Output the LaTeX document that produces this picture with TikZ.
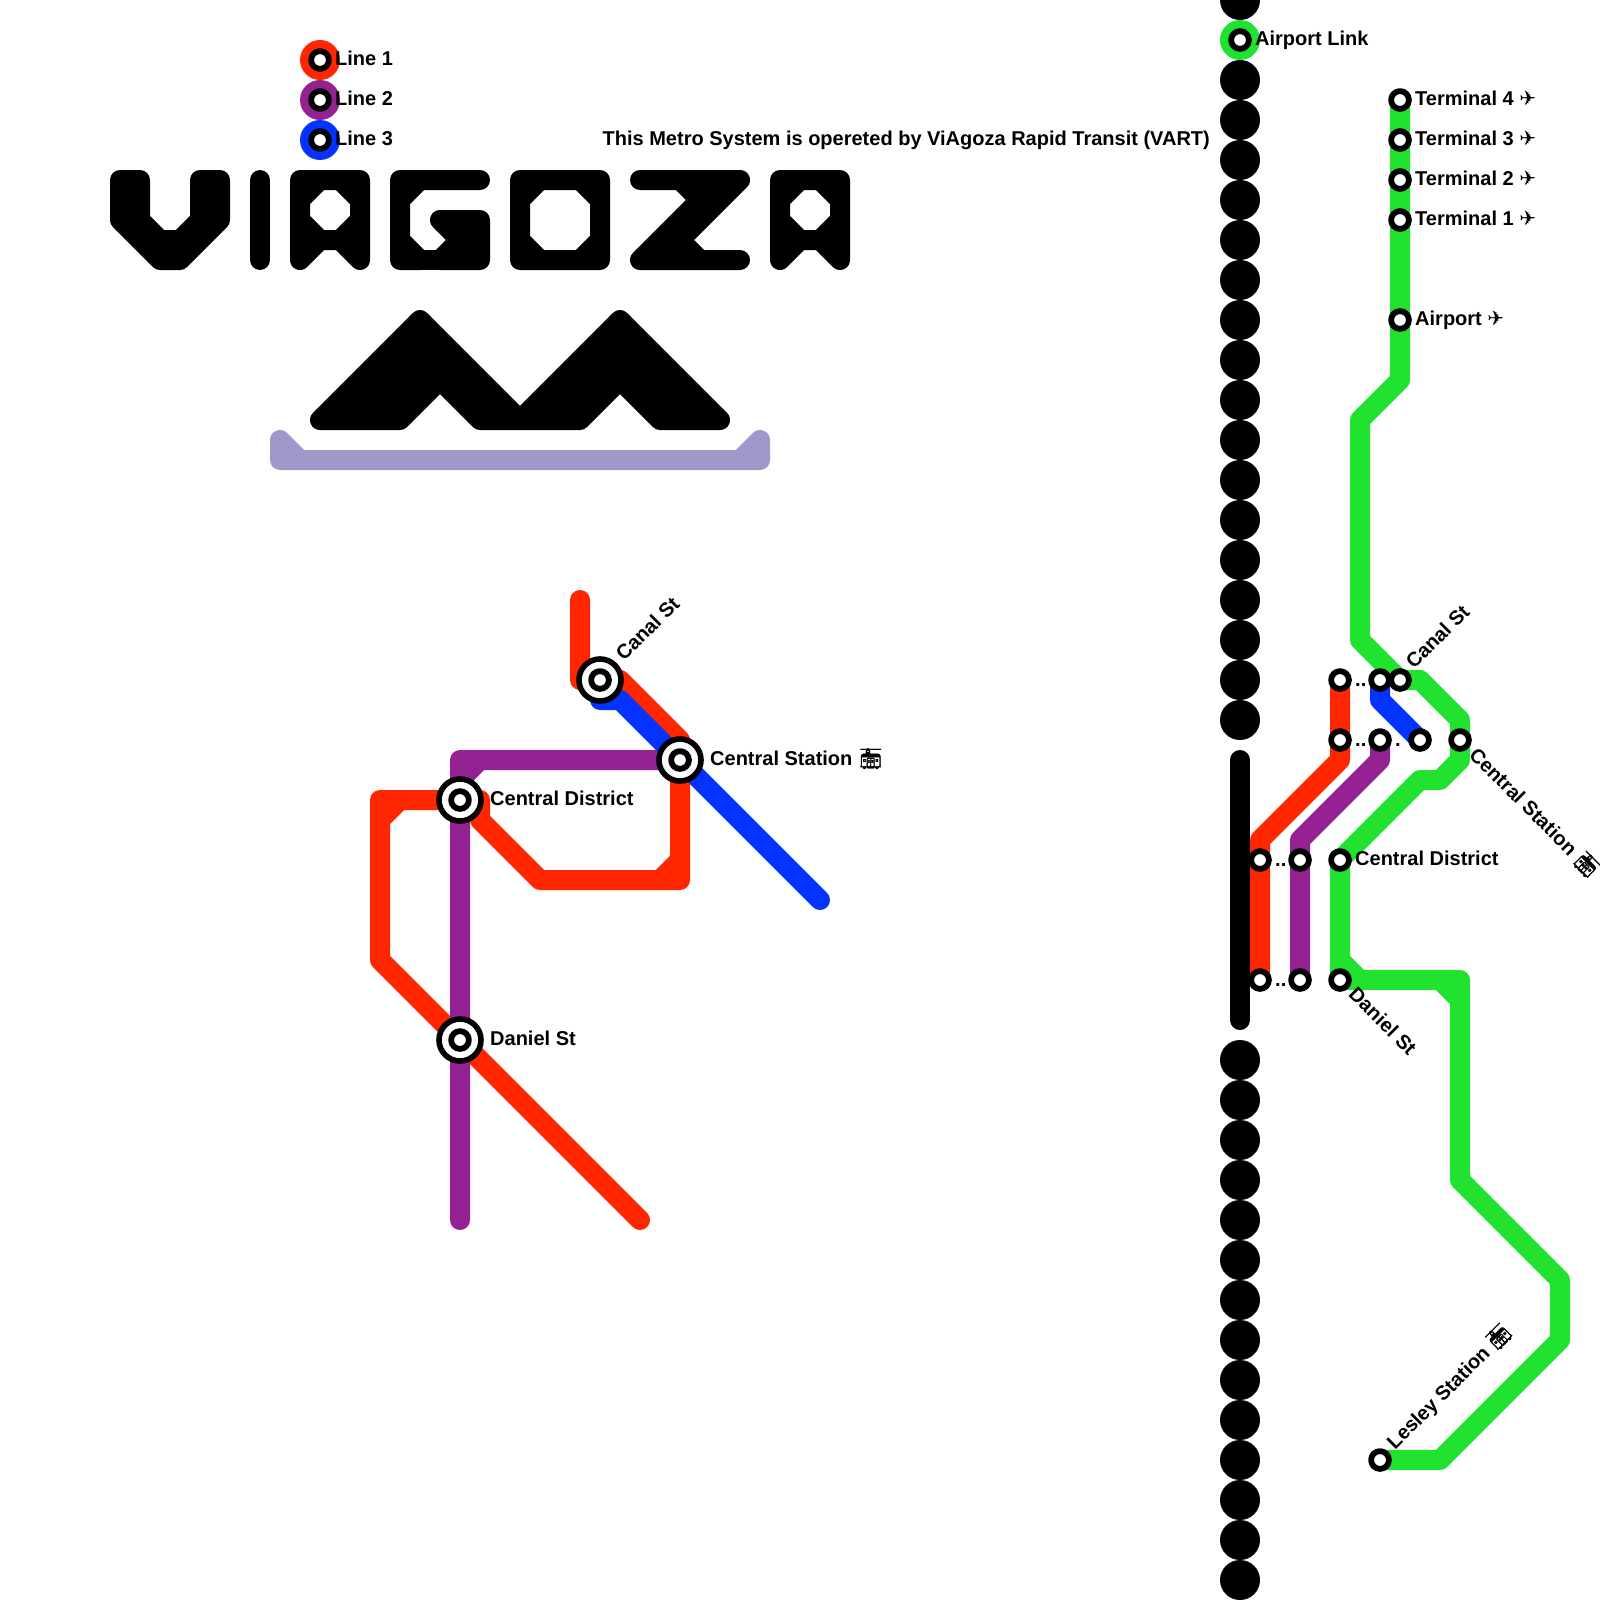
\documentclass[tikz,border=0pt]{standalone}
\usepackage{fontspec}
\setmainfont{Liberation Sans}
\newfontfamily\planefont{DejaVu Sans}
\newfontfamily\tramfont[FakeBold=1.5]{Noto Emoji}
\newcommand{\plane}{{\mdseries\planefont ✈}}
\newcommand{\tram}{{\tramfont 🚋}}
\definecolor{lineR}{HTML}{FF2600}
\definecolor{lineP}{HTML}{942192}
\definecolor{lineB}{HTML}{0433FF}
\definecolor{lineG}{HTML}{21E22E}
\definecolor{lineL}{HTML}{9F99C9}
\tikzset{
	track/.style={line width=20pt},
	stn/.style={draw=black,fill=white,line width=5.8pt},
	bigstn/.style={draw=black,fill=white,line width=5.6pt},
	lbl/.style={anchor=base west,inner sep=0pt}
}
\begin{document}
\begin{tikzpicture}[x=20pt,y=-20pt,font=\fontsize{20}{24}\selectfont\bfseries,line join=round,line cap=round]
	\useasboundingbox (0,0) rectangle (80,80);
	% stations, left map
	\coordinate (Cn) at (30,34);
	\coordinate (Cs) at (34,38);
	\coordinate (Cd) at (23,40);
	\coordinate (Dn) at (23,52);
	% stations, right map
	\coordinate (AL) at (62,2);
	\coordinate (Tf) at (70,5);
	\coordinate (Tt) at (70,7);
	\coordinate (Ts) at (70,9);
	\coordinate (To) at (70,11);
	\coordinate (AP) at (70,16);
	\coordinate (CnR) at (67,34);
	\coordinate (CnB) at (69,34);
	\coordinate (CnG) at (70,34);
	\coordinate (CsR) at (67,37);
	\coordinate (CsP) at (69,37);
	\coordinate (CsB) at (71,37);
	\coordinate (CsG) at (73,37);
	\coordinate (CdR) at (63,43);
	\coordinate (CdP) at (65,43);
	\coordinate (CdG) at (67,43);
	\coordinate (DnR) at (63,49);
	\coordinate (DnP) at (65,49);
	\coordinate (DnG) at (67,49);
	\coordinate (Ls) at (69,73);
	% legend
	\coordinate (LA) at (16,3);
	\coordinate (LB) at (16,5);
	\coordinate (LC) at (16,7);
	
	% logo
	\draw[track] (6,9)--(7,9)--(7,11)--(8,12)--(9,12)--(10,11)--(10,9)--(11,9)--(11,11)--(9,13)--(8,13)--(6,11)--cycle;
	\draw[track] (13,9)--(13,13);
	\foreach \s in {0,24}{
		\draw[track,xshift=\s*20pt] (15,9)--(18,9)--(18,13)--(17,12)--(16,12)--(15,13)--cycle
			(16,9)--(17,9)--(18,10)--(18,11)--(17,12)--(16,12)--(15,11)--(15,10)--cycle;
	}
	\draw[track] (24,9)--(20,9)--(20,13)--(21,13)--(20,12)--(20,10)--(21,9);
	\filldraw[track] (22,13)--(24,13)--(24,11)--(22,11)--(23,12)--cycle;
	\draw[track] (21,13)--(22,13);
	\draw[track] (26,9)--(30,9)--(30,13)--(26,13)--cycle
		(27,9)--(29,9)--(30,10)--(30,12)--(29,13)--(27,13)--(26,12)--(26,10)--cycle;
	\draw[track] (32,9)--(37,9)--(33,13)--(37,13)--(32,13)--(36,9) (34,9)--(35,10) (34,12)--(35,13);
	\filldraw[track] (16,21)--(21,16)--(26,21)--(31,16)--(36,21)--(33,21)--(31,19)--(29,21)--(24,21)--(22,19)--(20,21)--cycle;
	\draw[track,lineL] (14,22)--(15,23)--(37,23)--(38,22)--(38,23)--(14,23)--cycle;
	
	% left map
	\draw[track,lineR] (29,30)--(29,34)--(Cn)--(31,34)--(34,37)--(Cs)--(34,44)--(27,44)--(24,41)--(24,40)--(Cd)--(19,40)--(19,48)--(Dn)--(32,61);
	\draw[track,lineR] (33,44)--(34,43) (20,40)--(19,41);
	\draw[track,lineP] (23,61)--(Dn)--(Cd)--(23,38)--(Cs) (24,38)--(23,39);
	\draw[track,lineB] (30,35)--(31,35)--(Cs)--(41,45);
	\foreach \x in {Cn,Cs,Cd,Dn}{
		\draw[bigstn] (\x) circle (21pt);
		\draw[stn] (\x) circle (8.9pt);
	}
	
	% right map
	\foreach \y in {0,4,6,...,36,53,55,...,79}\fill (62,\y) circle (20pt);
	\fill[lineG] (AL) circle (20pt);
	\draw[track] (62,38)--(62,51);
	\draw[track,lineR] (CnR)--(CsR)--(67,38)--(63,42)--(CdR)--(DnR);
	\draw[track,lineP] (CsP)--(69,38)--(65,42)--(CdP)--(DnP);
	\draw[track,lineB] (CnB)--(69,35)--(CsB);
	\draw[track,lineG] (Tf)--(AP)--(70,19)--(68,21)--(68,32)--(CnG)--(71,34)--(73,36)--(CsG)--(73,38)--(72,39)--(71,39)--(CdG)--(DnG)--(73,49)--(73,59)--(78,64)--(78,67)--(72,73)--(Ls);
	\draw[track,lineG] (67,48)--(68,49) (72,49)--(73,50);
	
	% legend discs
	\fill[lineR] (LA) circle (20pt);
	\fill[lineP] (LB) circle (20pt);
	\fill[lineB] (LC) circle (20pt);
	\foreach \x in {LA,LB,LC,AL,Tf,Tt,Ts,To,AP,CnR,CnB,CnG,CsR,CsP,CsB,CsG,CdR,CdP,CdG,DnR,DnP,DnG,Ls}\draw[stn] (\x) circle (8.9pt);
	
	% labels
	\foreach \x/\dx/\dy/\a/\t in {
		LA/15/5.6/0/Line 1, LB/15/5.6/0/Line 2, LC/15/5.6/0/Line 3,
		AL/15/5.6/0/Airport Link,
		Tf/15/5.6/0/Terminal 4 \plane, Tt/15/5.6/0/Terminal 3 \plane, Ts/15/5.6/0/Terminal 2 \plane, To/15/5.6/0/Terminal 1 \plane, AP/15/5.6/0/Airport \plane,
		Cn/24/-18/45/Canal St, Cs/30/5.6/0/Central Station \tram, Cd/30/5.6/0/Central District, Dn/30/5.6/0/Daniel St,
		CnR/15/6/0/.., CsR/15/6/0/.., CsP/15/6/0/., CdR/15/6/0/.., DnR/15/6/0/..,
		CnG/14/-10/45/Canal St, CsG/8/16/-45/Central Station \tram, CdG/15/5.6/0/Central District, DnG/7.5/15.5/-45/Daniel St, Ls/15/-9.5/45/Lesley Station \tram
	}\node[lbl,rotate=\a] (lbl\x) at ([xshift=\dx pt,yshift=-\dy pt]\x) {\t};
	\node[anchor=base east,inner sep=0pt] (lblVART) at (60.5,7.28) {This Metro System is opereted by ViAgoza Rapid Transit (VART)};
\end{tikzpicture}
\end{document}
